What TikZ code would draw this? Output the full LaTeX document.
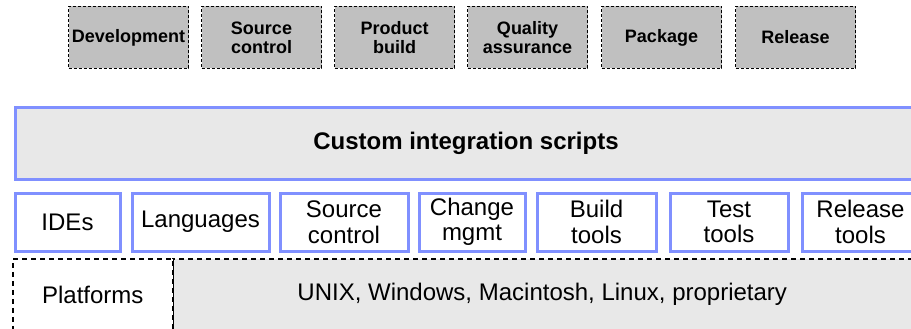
\documentclass[tikz,border=0pt]{standalone}
\usepackage{fontspec}
\setmainfont{Liberation Sans}
\definecolor{myblue}{RGB}{128,144,255}
\definecolor{mygray}{RGB}{192,192,192}
\definecolor{mylight}{RGB}{232,232,232}

\begin{document}
\begin{tikzpicture}[x=1pt,y=-1pt]
\useasboundingbox (0,0) rectangle (911,329);
\clip (0,0) rectangle (911,329);
\tikzset{StageStyle/.style ={draw, line width=1pt, dash pattern=on 3pt off 2pt, fill=mygray,
  anchor=north west, inner sep=0, minimum width=120, minimum height=62, align=center,
  font=\fontsize{18}{19}\selectfont\bfseries}}
\tikzset{ToolStyle/.style ={draw=myblue, line width=3pt, fill=white,
  anchor=north west, inner sep=0, minimum height=58, align=center,
  font=\fontsize{24}{25.5}\selectfont}}
\tikzset{BaseStyle/.style ={draw, line width=1.5pt, dash pattern=on 5pt off 4pt,
  anchor=north west, inner sep=0, minimum height=72, font=\fontsize{24}{26}\selectfont}}
% stages
\node[StageStyle] (dev) at (68,6) {Development};
\node[StageStyle] (scm) at (201,6) {Source\\control};
\node[StageStyle] (build) at (334,6) {Product\\build};
\node[StageStyle] (qa) at (467,6) {Quality\\assurance};
\node[StageStyle] (pkg) at (601,6) {Package};
\node[StageStyle] (rel) at (735,6) {Release};
% scripts layer
\node[ToolStyle, fill=mylight, minimum width=902, minimum height=71,
  font=\fontsize{24}{26}\selectfont\bfseries] (scripts) at (13.5,106.5) {Custom integration scripts};
% tools
\node[ToolStyle, minimum width=105] (ides) at (13.5,191.5) {IDEs};
\node[ToolStyle, minimum width=137] (langs) at (130.5,191.5) {Languages};
\node[ToolStyle, minimum width=128] (srcctl) at (278.5,191.5) {Source\\control};
\node[ToolStyle, minimum width=106] (chg) at (417.5,191.5) {Change\\mgmt};
\node[ToolStyle, minimum width=119] (bld) at (535.5,191.5) {Build\\tools};
\node[ToolStyle, minimum width=118] (test) at (668.5,191.5) {Test\\tools};
\node[ToolStyle, minimum width=117] (reltools) at (800.5,191.5) {Release\\tools};
% platforms
\node[BaseStyle, fill=mylight, minimum width=739] (systems) at (172,258) {UNIX, Windows, Macintosh, Linux, proprietary};
\node[BaseStyle, fill=white, minimum width=160] (platforms) at (12,258) {Platforms};
\end{tikzpicture}
\end{document}
